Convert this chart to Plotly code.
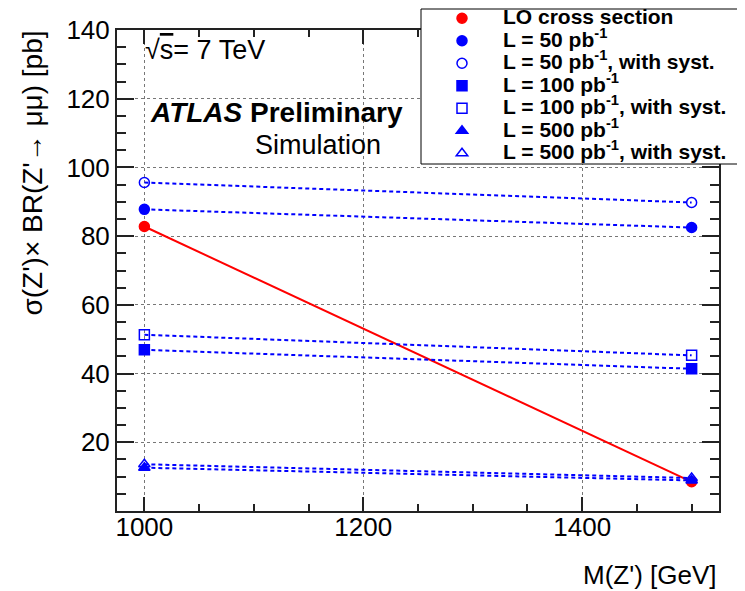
import plotly.graph_objects as go

# ---- data ----
mass = [1000, 1500]
lo_xsec = [82.8, 8.5]
l50 = [87.8, 82.5]
l50_syst = [95.6, 89.8]
l100 = [46.9, 41.4]
l100_syst = [51.3, 45.3]
l500 = [12.6, 8.9]
l500_syst = [13.6, 9.6]

labels = [
    "LO cross section",
    "L = 50 pb<sup>-1</sup>",
    "L = 50 pb<sup>-1</sup>, with syst.",
    "L = 100 pb<sup>-1</sup>",
    "L = 100 pb<sup>-1</sup>, with syst.",
    "L = 500 pb<sup>-1</sup>",
    "L = 500 pb<sup>-1</sup>, with syst.",
]
x_ticks = [1000, 1200, 1400]
y_ticks = [0, 20, 40, 60, 80, 100, 120, 140]
y_ticktext = ["", "20", "40", "60", "80", "100", "120", "140"]

FONT = "Liberation Sans, Arial, Helvetica, sans-serif"
RED = "#ff0000"
BLUE = "#0000ff"

# page body has an 8px margin: the figure is drawn 8px in from the window corner
OFF = 8
W, H = 745, 591
PL, PR, PT, PB = 117, 719, 30, 511   # plot frame in window pixels


def px(X):
    return (X - PL) / (PR - PL)


def py(Y):
    return (PB - Y) / (PB - PT)


series = [
    (lo_xsec, RED, "circle", "solid"),
    (l50, BLUE, "circle", "4px,3px"),
    (l50_syst, BLUE, "circle-open", "4px,3px"),
    (l100, BLUE, "square", "4px,3px"),
    (l100_syst, BLUE, "square-open", "4px,3px"),
    (l500, BLUE, "triangle-up", "4px,3px"),
    (l500_syst, BLUE, "triangle-up-open", "4px,3px"),
]

fig = go.Figure()
for ys, col, sym, dash in series:
    fig.add_trace(go.Scatter(
        x=mass, y=ys, mode="lines", showlegend=False, hoverinfo="skip",
        line=dict(color=col, width=2, dash=dash),
    ))
for (ys, col, sym, dash), lab in zip(series, labels):
    fig.add_trace(go.Scatter(
        x=mass, y=ys, mode="markers",
        name='<span style="font-size:21px"><b>' + lab + "</b></span>",
        marker=dict(color=col, symbol=sym, size=10, line=dict(color=col, width=1.5)),
    ))

axis_common = dict(
    showline=True, linecolor="#222", linewidth=2, mirror="allticks",
    ticks="inside", tickcolor="#222", tickwidth=1.5,
    showgrid=True, gridcolor="#777", gridwidth=1, griddash="dot",
    zeroline=False,
    tickfont=dict(family=FONT, size=26, color="black"),
)

fig.update_xaxes(
    range=[975, 1525], tickvals=x_ticks, ticklen=14, ticklabelstandoff=-8,
    minor=dict(ticks="inside", dtick=50, tick0=1000, ticklen=7, tickcolor="#222", showgrid=False),
    **axis_common,
)
fig.update_yaxes(
    range=[0, 140], tickmode="array", tickvals=y_ticks, ticktext=y_ticktext, ticklen=17,
    minor=dict(ticks="inside", dtick=5, tick0=0, ticklen=9, tickcolor="#222", showgrid=False),
    **axis_common,
)

annotations = [
    dict(text='√<span style="text-decoration:overline">s</span>= 7 TeV', x=px(143), y=py(50),
         xanchor="left", yanchor="middle", font=dict(family=FONT, size=27, color="black")),
    dict(text="<b><i>ATLAS</i> Preliminary</b>", x=px(148), y=py(112),
         xanchor="left", yanchor="middle", font=dict(family=FONT, size=28, color="black")),
    dict(text="Simulation", x=px(253), y=py(145), xanchor="left", yanchor="middle",
         font=dict(family=FONT, size=27, color="black")),
    dict(text="M(Z') [GeV]", x=px(719), y=py(575), xanchor="right", yanchor="middle",
         font=dict(family=FONT, size=26, color="black")),
    dict(text="σ(Z')× BR(Z'→ μμ) [pb]", x=px(32), y=py(29), textangle=-90,
         xanchor="center", yanchor="top", font=dict(family=FONT, size=28, color="black")),
]
for a in annotations:
    a.update(xref="paper", yref="paper", showarrow=False)

# legend frame
shapes = [dict(type="rect", xref="paper", yref="paper", layer="above",
               x0=px(421), x1=px(760), y0=py(164), y1=py(9),
               fillcolor="white", line=dict(color="black", width=1))]

fig.update_layout(
    width=W - OFF, height=H - OFF,
    margin=dict(l=PL - OFF, r=W - PR, t=PT - OFF, b=H - PB, autoexpand=False),
    paper_bgcolor="white", plot_bgcolor="white",
    font=dict(family=FONT, color="black"),
    showlegend=True,
    legend=dict(
        x=px(421), y=py(2), xanchor="left", yanchor="top",
        bgcolor="rgba(0,0,0,0)", borderwidth=0,
        font=dict(family=FONT, size=15, color="black"),
        itemwidth=72, tracegroupgap=0,
    ),
    annotations=annotations,
    shapes=shapes,
)

fig.write_html("out.html")
